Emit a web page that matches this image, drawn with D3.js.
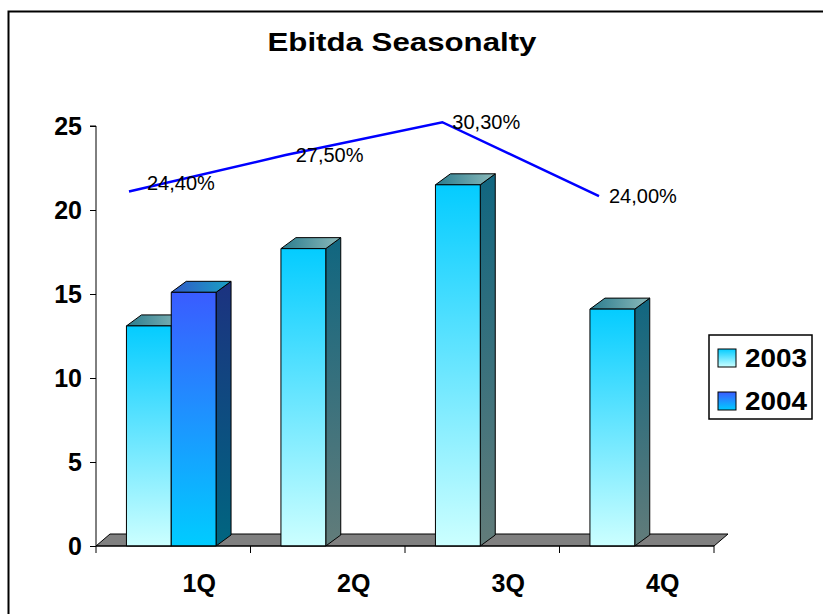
<!DOCTYPE html>
<html>
<head>
<meta charset="utf-8">
<script src="https://cdn.jsdelivr.net/npm/d3@7"></script>
<style>
  html, body { margin: 0; padding: 0; background: #fff; }
  svg { display: block; font-family: Arial, "Liberation Sans", sans-serif; }
</style>
</head>
<body>
<svg id="chart" width="823" height="614"></svg>
<script>
// Quarterly EBITDA (columns) and EBITDA margin (line)
const categories = ["1Q", "2Q", "3Q", "4Q"];
const series = ["2003", "2004"];
const ebitda2003 = [13.1, 17.7, 21.5, 14.1];
const ebitda2004 = [15.1, null, null, null];
const marginPct = [24.4, 27.5, 30.3, 24.0];
const marginLabels = ["24,40%", "27,50%", "30,30%", "24,00%"];
const yTicks = [0, 5, 10, 15, 20, 25];
const title = "Ebitda Seasonalty";

const svg = d3.select("#chart");
const defs = svg.append("defs");

function vGrad(id, top, bottom) {
  const g = defs.append("linearGradient").attr("id", id)
    .attr("x1", 0).attr("y1", 0).attr("x2", 0).attr("y2", 1);
  g.append("stop").attr("offset", "0%").attr("stop-color", top);
  g.append("stop").attr("offset", "100%").attr("stop-color", bottom);
}
function hGrad(id, left, right) {
  const g = defs.append("linearGradient").attr("id", id)
    .attr("x1", 0).attr("y1", 0).attr("x2", 1).attr("y2", 0);
  g.append("stop").attr("offset", "0%").attr("stop-color", left);
  g.append("stop").attr("offset", "100%").attr("stop-color", right);
}
// face shading per series
vGrad("front2003", "#04ccff", "#ccffff");
vGrad("side2003", "#106680", "#627c7a");
hGrad("top2003", "#2a7c8e", "#8cbaba");
vGrad("front2004", "#3a5cff", "#00ccff");
vGrad("side2004", "#1c3280", "#006680");
hGrad("top2004", "#2f58c8", "#1aa2c4");

const faces = {
  "2003": { front: "url(#front2003)", side: "url(#side2003)", top: "url(#top2003)" },
  "2004": { front: "url(#front2004)", side: "url(#side2004)", top: "url(#top2004)" }
};

// outer frame
svg.append("rect")
  .attr("x", 8.5).attr("y", 11.5).attr("width", 840).attr("height", 640)
  .attr("fill", "none").attr("stroke", "#000").attr("stroke-width", 2);

// scales
const x0 = d3.scaleBand().domain(categories).range([96, 714]);
const barW = x0.bandwidth() * 0.29;
const x1 = d3.scaleBand().domain(series).range([0, 2 * barW]);
const y = d3.scaleLinear().domain([0, 25]).range([546, 126]);
const xLine = d3.scalePoint().domain(categories).range([129, 599]);
const yPct = d3.scaleLinear().domain([0, 35]).range([478, 67]);

const depth = { dx: 15, dy: -11 };
const floorDepth = { dx: 14, dy: -12 };
// offset of category labels, which sit at the back of the floor
const labelShift = 26;
// data-label placement relative to each line point
const labelNudge = [[18, -8], [10, 0], [10, 0], [10, 0]];

// floor
const fx0 = x0.range()[0], fx1 = x0.range()[1], fy = y(0);
svg.append("path")
  .attr("d", `M${fx0},${fy} L${fx0 + floorDepth.dx},${fy + floorDepth.dy} L${fx1 + floorDepth.dx},${fy + floorDepth.dy} L${fx1},${fy} Z`)
  .attr("fill", "#808080").attr("stroke", "#000").attr("stroke-width", 1);

// bars
const barData = [];
categories.forEach((c, i) => {
  [ebitda2003[i], ebitda2004[i]].forEach((v, k) => {
    if (v != null) barData.push({ cat: c, s: series[k], v });
  });
});

const barG = svg.append("g").attr("stroke", "#000").attr("stroke-width", 1).attr("stroke-linejoin", "round");
barData.forEach(d => {
  const xl = x0(d.cat) + (x0.bandwidth() - 2 * barW) / 2 - 2 + x1(d.s);
  const xr = xl + barW;
  const yt = y(d.v), yb = y(0);
  const g = barG.append("g");
  // side face
  g.append("path")
    .attr("d", `M${xr},${yb} L${xr + depth.dx},${yb + depth.dy} L${xr + depth.dx},${yt + depth.dy} L${xr},${yt} Z`)
    .attr("fill", faces[d.s].side);
  // top face
  g.append("path")
    .attr("d", `M${xl},${yt} L${xl + depth.dx},${yt + depth.dy} L${xr + depth.dx},${yt + depth.dy} L${xr},${yt} Z`)
    .attr("fill", faces[d.s].top);
  // front face
  g.append("rect")
    .attr("x", xl).attr("y", yt).attr("width", barW).attr("height", yb - yt)
    .attr("fill", faces[d.s].front);
});

// y axis
const yAxis = d3.axisLeft(y).tickValues(yTicks).tickSize(6).tickPadding(8);
const yG = svg.append("g").attr("transform", "translate(96,0)").call(yAxis);
yG.select(".domain").attr("stroke", "#000").attr("d", `M-6,${y(25)}H0V${y(0)}`);
yG.selectAll(".tick line").attr("stroke", "#000");
yG.selectAll(".tick text")
  .attr("font-family", "Arial, 'Liberation Sans', sans-serif")
  .attr("font-size", 25).attr("font-weight", "bold").attr("fill", "#000");

// x axis (ticks at category boundaries)
const xG = svg.append("g").attr("transform", `translate(0,${y(0)})`);
xG.append("line").attr("x1", fx0).attr("x2", fx1).attr("y1", 0).attr("y2", 0).attr("stroke", "#000");
const boundaries = categories.map(c => x0(c)).concat([x0(categories[categories.length - 1]) + x0.bandwidth()]);
xG.selectAll("line.tk").data(boundaries).join("line").attr("class", "tk")
  .attr("x1", d => d).attr("x2", d => d).attr("y1", 0).attr("y2", 7).attr("stroke", "#000");
xG.selectAll("text").data(categories).join("text")
  .attr("x", d => x0(d) + x0.bandwidth() / 2 + labelShift)
  .attr("y", 46)
  .attr("text-anchor", "middle")
  .attr("font-size", 25).attr("font-weight", "bold")
  .text(d => d);

// margin line
const line = d3.line().x((d, i) => xLine(categories[i])).y(d => yPct(d));
svg.append("path").datum(marginPct)
  .attr("d", line).attr("fill", "none").attr("stroke", "#0000ff").attr("stroke-width", 2.5);

svg.append("g").selectAll("text").data(marginPct).join("text")
  .attr("x", (d, i) => xLine(categories[i]) + labelNudge[i][0])
  .attr("y", (d, i) => yPct(d) + labelNudge[i][1])
  .attr("dy", "0.35em")
  .attr("font-size", 20).attr("fill", "#000")
  .text((d, i) => marginLabels[i]);

// legend
const lg = svg.append("g").attr("transform", "translate(709,335)");
lg.append("rect").attr("width", 103).attr("height", 84)
  .attr("fill", "#fff").attr("stroke", "#000").attr("stroke-width", 1.5);
series.forEach((s, i) => {
  const row = lg.append("g").attr("transform", `translate(9,${14 + i * 43})`);
  row.append("rect").attr("width", 18).attr("height", 18)
    .attr("fill", faces[s].front).attr("stroke", "#000").attr("stroke-width", 1);
  row.append("text").attr("x", 27).attr("y", 9).attr("dy", "0.36em")
    .attr("font-size", 25).attr("font-weight", "bold")
    .attr("textLength", 62).attr("lengthAdjust", "spacingAndGlyphs")
    .text(s);
});

// title
svg.append("text")
  .attr("x", 402).attr("y", 51)
  .attr("text-anchor", "middle")
  .attr("font-size", 26).attr("font-weight", "bold")
  .attr("textLength", 269).attr("lengthAdjust", "spacingAndGlyphs")
  .text(title);
</script>
</body>
</html>
